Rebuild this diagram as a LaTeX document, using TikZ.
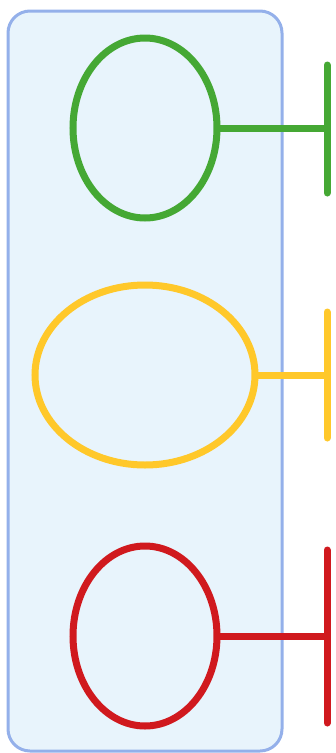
\documentclass[tikz,border=0pt]{standalone}
\usetikzlibrary{shapes.geometric}
\definecolor{boxfill}{HTML}{E8F4FC}
\definecolor{boxline}{HTML}{94B0EA}
\definecolor{cgreen}{HTML}{45A834}
\definecolor{cyellow}{HTML}{FFC82A}
\definecolor{cred}{HTML}{D0191E}
\begin{document}
\begin{tikzpicture}[x=1pt,y=-1pt,
  blob/.style={ellipse,draw,line width=7pt,inner sep=0pt,outer sep=0pt,minimum height=180pt},
  link/.style={line width=7pt},
  tbar/.style={line width=7pt,line cap=round}]
\useasboundingbox (0,0) rectangle (335,753);
\draw[boxline,fill=boxfill,line width=3pt,rounded corners=22pt] (8,11) rectangle (282,751);
% green
\node[blob,cgreen,minimum width=144pt] (g) at (145,128) {};
\coordinate (gt) at (327,128);
\draw[link,cgreen] (g.east) -- (gt);
\draw[tbar,cgreen] (327,65) -- (327,193);
% yellow
\node[blob,cyellow,minimum width=220pt] (y) at (145,375) {};
\coordinate (yt) at (327,375);
\draw[link,cyellow] (y.east) -- (yt);
\draw[tbar,cyellow] (327,312) -- (327,438);
% red
\node[blob,cred,minimum width=144pt] (r) at (145,636) {};
\coordinate (rt) at (327,636);
\draw[link,cred] (r.east) -- (rt);
\draw[tbar,cred] (327,550) -- (327,723);
\end{tikzpicture}
\end{document}
